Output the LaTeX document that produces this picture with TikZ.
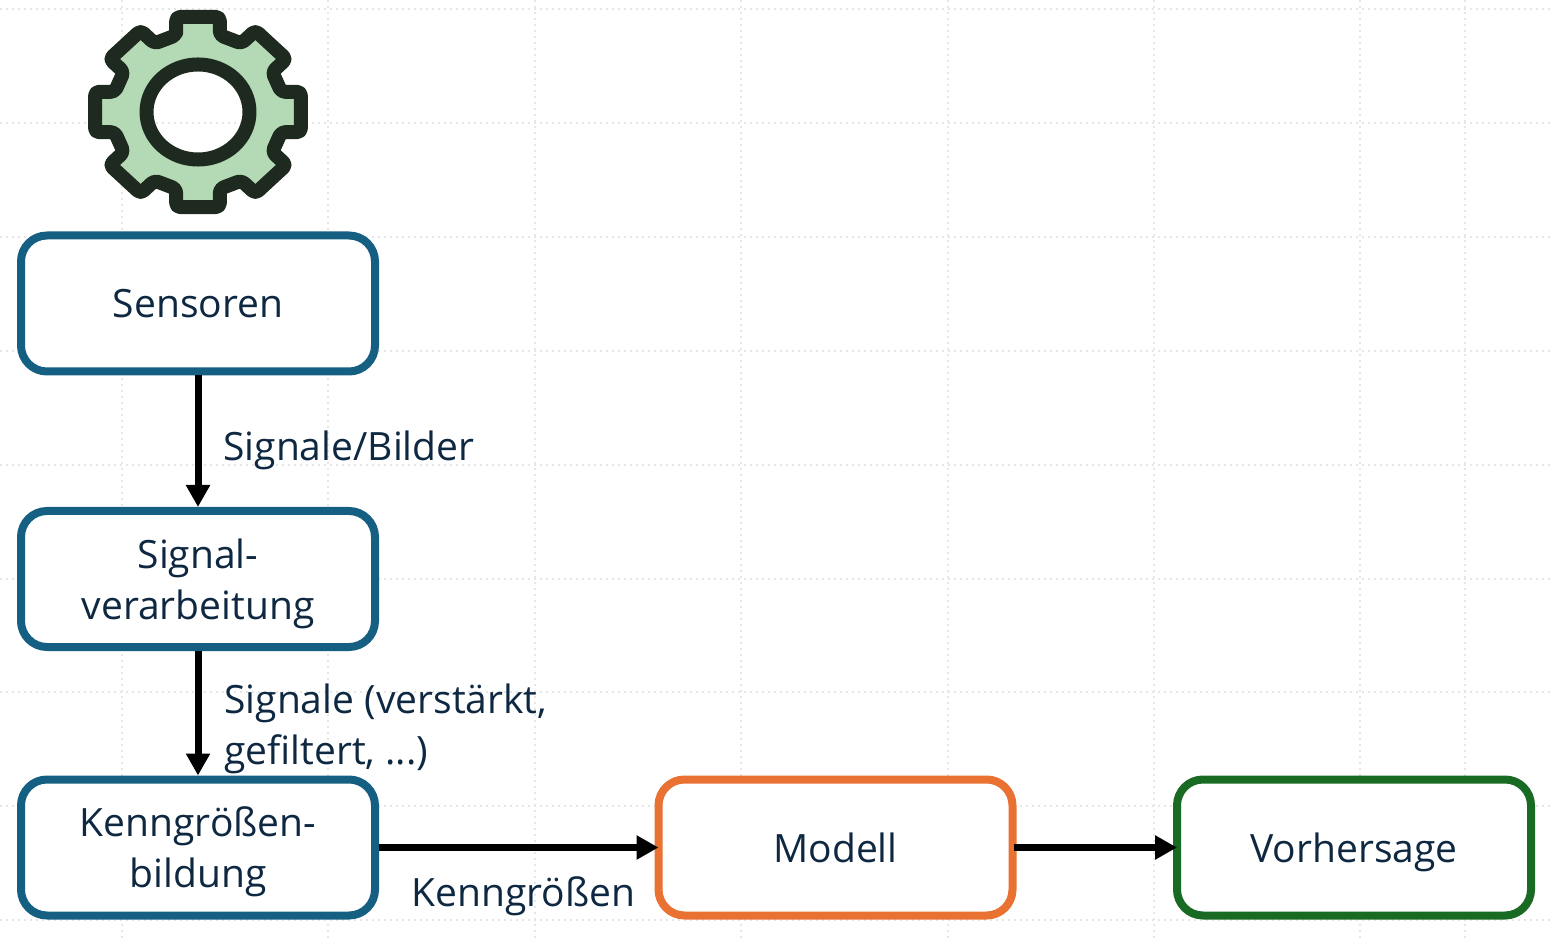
\documentclass[tikz,border=0pt]{standalone}
\usepackage{fontspec}
\setmainfont{Open Sans}
\usetikzlibrary{arrows.meta}
\definecolor{inktext}{HTML}{0E2841}
\definecolor{boxblue}{HTML}{156082}
\definecolor{boxorange}{HTML}{E97132}
\definecolor{boxgreen}{HTML}{196B24}
\definecolor{gearfill}{HTML}{B3D9B5}
\definecolor{geardark}{HTML}{1E2A20}
\definecolor{gridgrey}{HTML}{E6E6E6}

\begin{document}
\begin{tikzpicture}[x=0.5pt, y=-0.5pt, align=center,
	main/.style = {draw, rectangle, rounded corners=13pt, line width=4pt, fill=white, minimum width=177pt, minimum height=68pt, inner sep=0pt, text depth=0pt, text=inktext, font=\fontsize{19.5}{25.5}\selectfont},
	label/.style = {anchor=west, align=left, inner sep=0pt, text depth=0pt, text=inktext, font=\fontsize{19.5}{25.5}\selectfont},
	pfeil/.style = {line width=3.5pt, -{Triangle[length=11pt, width=11.5pt]}},
	raster/.style = {gridgrey, line width=1pt, dotted}]
	\useasboundingbox (0,0) rectangle (1552,940);
	% raster
	\foreach \y in {9,123,237,351,465,579,692,806,920}
		\draw[raster] (0,\y) -- (1552,\y);
	\foreach \x in {122,328,535,741,948,1154,1360,1465}
		\draw[raster] (\x,0) -- (\x,940);
	% zahnrad
	\begin{scope}[shift={(198,112)}, xscale=1.04, yscale=0.96]
		\filldraw[fill=gearfill, draw=geardark, line width=7pt, even odd rule, line join=round, rounded corners=2pt]
			(-21,-80)
			\foreach \a in {0,45,...,315} {
				-- ([rotate=-\a]-21,-99) -- ([rotate=-\a]21,-99) -- ([rotate=-\a]21,-80) -- ([rotate=-\a-45]-21,-80)
			} -- cycle
			(0,0) circle[radius=49.5];
	\end{scope}
	% boxen
	\node[main, draw=boxblue] (sensoren) at (198,303.5) {Sensoren};
	\node[main, draw=boxblue, node distance=137.75pt] (signal) [below of = sensoren] {Signal-\\verarbeitung};
	\node[main, draw=boxblue, node distance=134.25pt] (kenn) [below of = signal] {Kenngrößen-\\bildung};
	\node[main, draw=boxorange, node distance=318.75pt] (modell) [right of = kenn] {Modell};
	\node[main, draw=boxgreen, node distance=259.25pt] (vorhersage) [right of = modell] {Vorhersage};
	% pfeile
	\draw[pfeil] (sensoren) -- (signal);
	\draw[pfeil] (signal) -- (kenn);
	\draw[pfeil, shorten >=-2pt] (kenn) -- (modell);
	\draw[pfeil, shorten >=-2pt, shorten <=-1.5pt] (modell) -- (vorhersage);
	% beschriftung
	\node[label] (lblsignale) at (223,446) {Signale/Bilder};
	\node[label] (lblgefiltert) at (224,724) {Signale (verstärkt,\\gefiltert, ...)};
	\node[label] (lblkenn) at (411,892) {Kenngrößen};
\end{tikzpicture}
\end{document}
